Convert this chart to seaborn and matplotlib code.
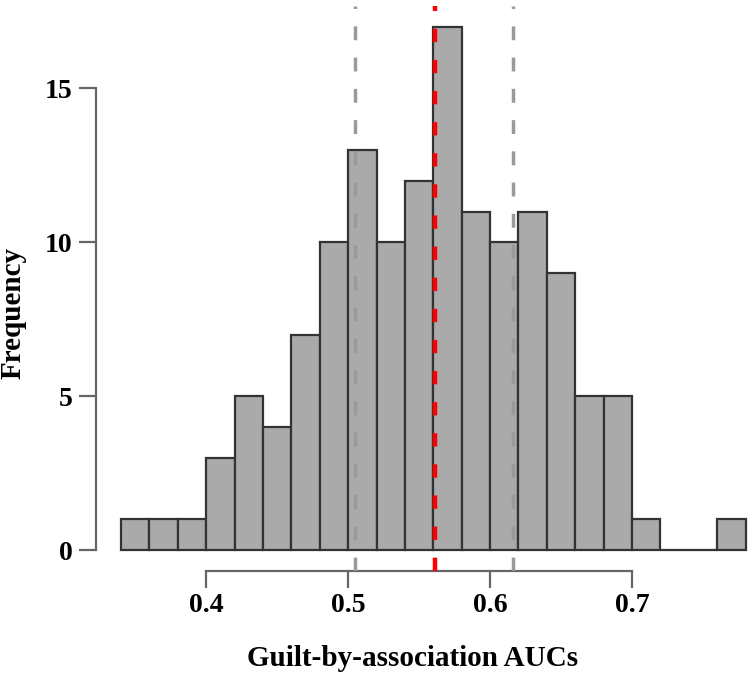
import matplotlib
matplotlib.use("Agg")
import matplotlib.pyplot as plt
import seaborn as sns

# histogram of guilt-by-association AUCs (bin width 0.02)
bin_edges = [0.34, 0.36, 0.38, 0.40, 0.42, 0.44, 0.46, 0.48, 0.50, 0.52, 0.54, 0.56,
             0.58, 0.60, 0.62, 0.64, 0.66, 0.68, 0.70, 0.72, 0.74, 0.76, 0.78]
counts = [1, 1, 1, 3, 5, 4, 7, 10, 13, 10, 12, 17, 11, 10, 11, 9, 5, 5, 1, 0, 0, 1]
bin_centers = [(a + b) / 2 for a, b in zip(bin_edges[:-1], bin_edges[1:])]

mean_auc = 0.561
sd_lines = [0.505, 0.616]

x_ticks = [0.4, 0.5, 0.6, 0.7]
y_ticks = [0, 5, 10, 15]

sns.set_style("white")
plt.rcParams["font.family"] = ["Liberation Serif", "DejaVu Serif"]
plt.rcParams["text.color"] = "black"
plt.rcParams["axes.labelcolor"] = "black"
plt.rcParams["xtick.labelcolor"] = "black"
plt.rcParams["ytick.labelcolor"] = "black"

W, H = 750, 679
fig = plt.figure(figsize=(W / 100, H / 100), dpi=100)
# axes box in pixels: left 96, right 750, top 6, bottom 571
ax = fig.add_axes([96 / W, (H - 571) / H, (W - 96) / W, (571 - 6) / H])

sns.histplot(x=bin_centers, weights=counts, bins=bin_edges, ax=ax,
             color="#aaaaaa", edgecolor="#333333", linewidth=1.6, alpha=1)

for x in sd_lines:
    ax.axvline(x, color="#9a9a9a", linewidth=2.5, linestyle=(0, (4, 5)), zorder=3)
ax.axvline(mean_auc, color="#ff0000", linewidth=3.2, linestyle=(0, (3, 4)), zorder=4)

ax.set_xlim(0.3224, 0.4 + (W - 206) / 1420)
ax.set_ylim(-0.68, 17.68)

sns.despine(ax=ax)
ax.spines["left"].set_bounds(0, 15)
ax.spines["bottom"].set_bounds(0.4, 0.7)
for s in ["left", "bottom"]:
    ax.spines[s].set_color("#666666")
    ax.spines[s].set_linewidth(1.6)

ax.set_xticks(x_ticks)
ax.set_xticklabels([f"{t:.1f}" for t in x_ticks])
ax.set_yticks(y_ticks)
ax.tick_params(direction="out", length=12, width=1.6, color="#666666",
               labelcolor="black", labelsize=20, left=True, bottom=True)
ax.tick_params(axis="x", pad=4)
ax.tick_params(axis="y", pad=5)
for lbl in ax.get_xticklabels() + ax.get_yticklabels():
    lbl.set_fontweight("bold")

ax.set_xlabel("Guilt-by-association AUCs", fontsize=21, fontweight="bold", color="black")
ax.set_ylabel("Frequency", fontsize=21, fontweight="bold", color="black")
ax.xaxis.set_label_coords((413 - 96) / 654, -(645 - 571) / 565)
ax.yaxis.set_label_coords((27 - 96) / 654, (571 - 313) / 565)

fig.savefig("out.png", dpi=100)
